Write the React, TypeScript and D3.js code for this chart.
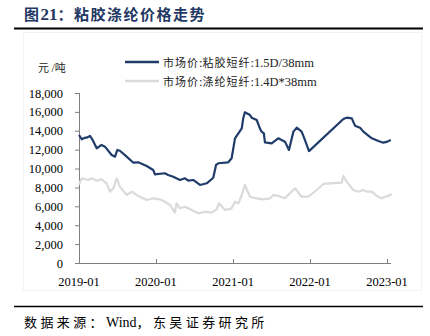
import React from "react";
import * as d3 from "d3";

const viscoseDates = ["2019-01-01","2019-01-14","2019-01-29","2019-02-10","2019-02-22","2019-03-05","2019-03-26","2019-04-18","2019-05-04","2019-06-05","2019-06-21","2019-07-02","2019-07-14","2019-08-15","2019-09-16","2019-10-09","2019-11-18","2019-12-19","2019-12-27","2020-02-12","2020-02-28","2020-03-23","2020-04-24","2020-05-18","2020-06-02","2020-06-26","2020-07-28","2020-08-29","2020-09-29","2020-10-12","2020-10-23","2020-12-09","2020-12-25","2021-01-10","2021-01-26","2021-02-11","2021-02-18","2021-02-26","2021-03-22","2021-03-30","2021-04-23","2021-05-08","2021-05-16","2021-05-27","2021-06-01","2021-07-03","2021-08-03","2021-09-04","2021-09-23","2021-10-14","2021-10-30","2021-11-22","2021-12-03","2021-12-27","2022-06-08","2022-06-24","2022-07-18","2022-08-02","2022-08-26","2022-09-11","2022-09-27","2022-10-21","2022-11-21","2022-12-15","2023-01-03","2023-01-19"];
const viscoseValues = [13550,13100,13250,13300,13450,13100,12150,12500,12320,11440,11260,11970,11890,11260,10620,10660,10270,9850,9390,9500,9320,9140,8790,8970,8720,8790,8260,8440,9030,10380,10560,10660,11090,13200,13730,14260,15320,15960,15670,15390,15140,14260,13910,13730,12780,12670,13200,12850,11970,13910,14330,13910,13300,11850,15250,15390,15320,14540,14330,13910,13630,13200,12920,12740,12850,13030];

const polyDates = ["2019-01-01","2019-01-14","2019-02-14","2019-03-02","2019-03-26","2019-04-18","2019-05-12","2019-05-28","2019-06-13","2019-06-29","2019-07-14","2019-08-15","2019-09-08","2019-10-09","2019-11-18","2019-12-19","2020-01-20","2020-02-12","2020-03-08","2020-03-31","2020-04-08","2020-04-24","2020-05-18","2020-06-19","2020-07-20","2020-08-21","2020-09-21","2020-10-15","2020-10-26","2020-11-24","2020-12-25","2021-01-02","2021-01-10","2021-01-26","2021-02-11","2021-02-26","2021-03-22","2021-04-23","2021-05-24","2021-06-25","2021-07-11","2021-08-03","2021-09-04","2021-09-28","2021-10-22","2021-11-22","2021-12-24","2022-02-02","2022-03-05","2022-05-31","2022-06-08","2022-06-24","2022-07-25","2022-08-18","2022-09-11","2022-09-27","2022-10-21","2022-11-13","2022-12-07","2022-12-23","2023-01-07","2023-01-23"];
const polyValues = [8300,8970,8790,8970,8720,8860,8440,7550,7910,8970,8080,7200,7550,7100,6670,6850,6740,6490,6140,5330,6320,5790,5960,5610,5260,5430,5330,5680,6320,5610,5790,6140,6490,6320,7200,8260,7020,6850,6740,6850,7200,7100,6850,7380,7910,7020,7020,7730,8370,8500,9240,8610,7730,7550,7730,7550,7550,7100,6850,7020,7100,7310];

const yTicks = [0,2000,4000,6000,8000,10000,12000,14000,16000,18000];
const xTicks = ["2019-01-01","2020-01-01","2021-01-01","2022-01-01","2023-01-01"];
const legendLabels = ["市场价:粘胶短纤:1.5D/38mm","市场价:涤纶短纤:1.4D*38mm"];
const titleText = "图21：粘胶涤纶价格走势";
const sourceText = "数据来源：Wind，东吴证券研究所";
const unitText = "元/吨";

const parse = d3.timeParse("%Y-%m-%d");
const fmtX = d3.timeFormat("%Y-%m");
const fmtY = d3.format(",");

const serif = "'Liberation Serif', serif";
const cjkFont = "'Noto Sans CJK SC', sans-serif";

function Mixed({ text, x, y, cjkSize, latSize, cjkSpacing, fill, weight }: any) {
  const parts = text.match(/[\u3000-\u9fff\uff00-\uffef]+|[^\u3000-\u9fff\uff00-\uffef]+/g) || [];
  return (
    <text x={x} y={y} fill={fill} fontWeight={weight}>
      {parts.map((p: string, i: number) => {
        const isCjk = /[\u3000-\u9fff\uff00-\uffef]/.test(p);
        return (
          <tspan key={i} fontFamily={isCjk ? cjkFont : serif} fontSize={isCjk ? cjkSize : latSize}
            letterSpacing={isCjk ? cjkSpacing : 0}>{p}</tspan>
        );
      })}
    </text>
  );
}

export default function App() {
  const x = d3.scaleTime().domain([parse("2019-01-01")!, parse("2023-01-01")!]).range([79, 387]);
  const y = d3.scaleLinear().domain([0, 18000]).range([263, 93]);
  const line = d3.line<[Date, number]>().x(d => x(d[0])).y(d => y(d[1])).curve(d3.curveLinear);
  const vData: [Date, number][] = viscoseDates.map((d, i) => [parse(d)!, viscoseValues[i]]);
  const pData: [Date, number][] = polyDates.map((d, i) => [parse(d)!, polyValues[i]]);
  const blue = "#1f3c6a";
  const grey = "#dadada";
  const axisCol = "#7f7f7f";
  return (
    <svg width={430} height={336} style={{ position: "absolute", left: 0, top: 0, background: "#fff" }}>
      <Mixed text={titleText} x={24} y={20} cjkSize={15} latSize={17} cjkSpacing={1.5} fill="#1f3864" weight="bold" />
      <line x1={14} x2={423} y1={28.5} y2={28.5} stroke="#000" strokeWidth={2} />
      <rect x={23.5} y={32.5} width={398} height={258} fill="none" stroke="#f2f2f2" />
      {/* legend */}
      <line x1={125} x2={159} y1={62} y2={62} stroke={blue} strokeWidth={2.5} />
      <Mixed text={legendLabels[0]} x={163} y={67} cjkSize={11} latSize={12.5} cjkSpacing={1} fill="#222" />
      <line x1={125} x2={159} y1={81} y2={81} stroke={grey} strokeWidth={2.5} />
      <Mixed text={legendLabels[1]} x={163} y={86} cjkSize={11} latSize={12.5} cjkSpacing={1} fill="#222" />
      <Mixed text={unitText} x={38} y={72} cjkSize={11} latSize={12} cjkSpacing={2.5} fill="#222" />
      {/* y axis */}
      <line x1={79.5} x2={79.5} y1={93} y2={263} stroke={axisCol} />
      {yTicks.map(t => (
        <g key={t}>
          <line x1={75} x2={79.5} y1={y(t) + 0.5} y2={y(t) + 0.5} stroke={axisCol} />
          <text x={63} y={y(t) + 4.5} textAnchor="end" fontSize={12.5} fontFamily={serif} fill="#000">{fmtY(t)}</text>
        </g>
      ))}
      {/* x axis */}
      <line x1={79} x2={391} y1={263.5} y2={263.5} stroke={axisCol} />
      {xTicks.map(t => {
        const d = parse(t)!;
        return (
          <g key={t}>
            <line x1={Math.round(x(d)) + 0.5} x2={Math.round(x(d)) + 0.5} y1={259} y2={263.5} stroke={axisCol} />
            <text x={x(d)} y={286} textAnchor="middle" fontSize={12.5} fontFamily={serif} fill="#000">{fmtX(d)}</text>
          </g>
        );
      })}
      <path d={line(pData)!} fill="none" stroke={grey} strokeWidth={2.2} strokeLinejoin="round" />
      <path d={line(vData)!} fill="none" stroke={blue} strokeWidth={2.2} strokeLinejoin="round" />
      <line x1={14} x2={423} y1={306.5} y2={306.5} stroke="#000" strokeWidth={1.5} />
      <Mixed text={sourceText} x={24} y={327} cjkSize={13} latSize={14} cjkSpacing={3.4} fill="#000" />
    </svg>
  );
}
